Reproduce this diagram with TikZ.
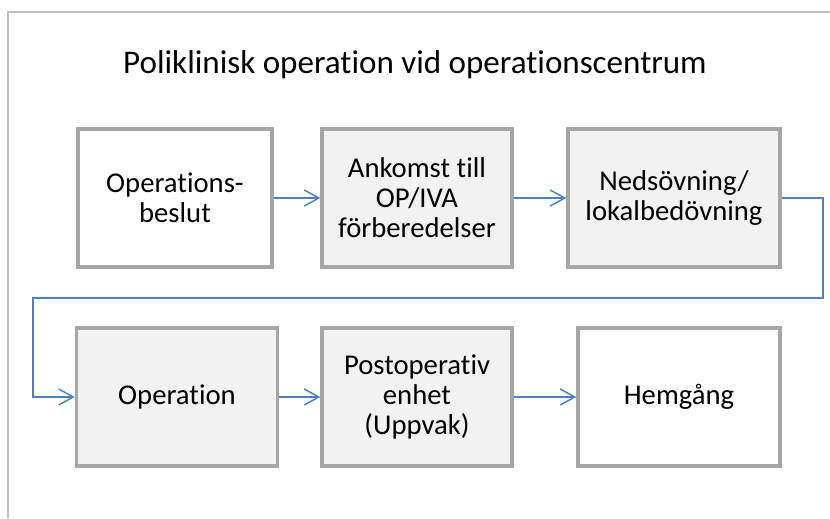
\documentclass[tikz,border=0pt]{standalone}
\usepackage{fontspec}
\setmainfont{Carlito}[Ligatures=NoCommon]
\usetikzlibrary{
  arrows.meta
}

\definecolor{boxline}{HTML}{A6A6A6}
\definecolor{boxfill}{HTML}{F2F2F2}
\definecolor{flowblue}{HTML}{4F81BD}
\definecolor{frameline}{HTML}{BFBFBF}

% sizes below are given in pixels of the page (1px = 0.75pt)
\newcommand{\px}[1]{#1*0.75pt}

\tikzset{
  stage/.style={draw=boxline, line width=2.4pt, fill=white, align=center,
    minimum height=\px{138}, inner sep=0pt, font=\fontsize{21.5}{22.5}\selectfont},
  shaded/.style={stage, fill=boxfill},
  flow/.style={draw=flowblue, line width=1.1pt,
    -{Straight Barb[length=11pt,width=12pt,line width=1.1pt]}},
}

\begin{document}
\begin{tikzpicture}[x=0.75pt,y=-0.75pt]
\useasboundingbox (0,0) rectangle (830,518);
\draw[frameline, line width=1.1pt] (8,518) |- (830,12);

\node[font=\fontsize{24.8}{28}\selectfont] (title) at (415,65)
  {Poliklinisk operation vid operationscentrum};

% first row
\node[stage, minimum width=\px{194}] (beslut) at (175,198) {Operations-\\beslut};
\node[shaded, minimum width=\px{190}] (ankomst) at (417,198) {Ankomst till\\OP/IVA\\förberedelser};
\node[shaded, minimum width=\px{212}] (sovning) at (674,198) {Nedsövning/\\lokalbedövning};

% second row
\node[shaded, minimum width=\px{201}] (operation) at (177,397) {Operation};
\node[shaded, minimum width=\px{190}] (postop) at (417,397) {Postoperativ\\enhet\\(Uppvak)};
\node[stage, minimum width=\px{202}] (hem) at (679,397) {Hemgång};

\coordinate (turnR) at (823,298);
\coordinate (turnL) at (33,298);

\draw[flow] (beslut) -- (ankomst);
\draw[flow] (ankomst) -- (sovning);
\draw[flow] (sovning.east) -| (turnR) -- (turnL) |- (operation.west);
\draw[flow] (operation) -- (postop);
\draw[flow] (postop) -- (hem);
\end{tikzpicture}
\end{document}
